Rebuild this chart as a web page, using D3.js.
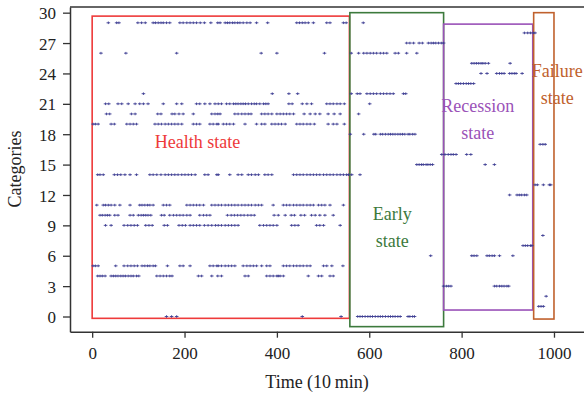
<!DOCTYPE html>
<html>
<head>
<meta charset="utf-8">
<script src="https://cdn.jsdelivr.net/npm/d3@7"></script>
<style>
  body { margin: 0; background: #fff; }
  svg { display: block; }
  text { font-family: "Liberation Serif", "Times New Roman", serif; }
</style>
</head>
<body>
<div id="chart"></div>
<script>
// tick labels
const xTicks = [0, 200, 400, 600, 800, 1000];
const yTicks = [0, 3, 6, 9, 12, 15, 18, 21, 24, 27, 30];

// observed points: [category, times...]
const healthRows = [
  [29, [35, 53, 58, 99, 107, 115, 132, 137, 143, 149, 154, 161, 168, 190, 197, 205, 212, 219, 226, 234, 243, 257, 272,
        277, 288, 293, 298, 304, 309, 315, 320, 327, 335, 342, 356, 380, 443, 449, 455, 461, 468, 479, 508, 515, 544, 550]],
  [26, [19, 73, 183, 366, 400, 503]],
  [22, [111, 390, 426, 445]],
  [21, [29, 36, 56, 64, 78, 93, 103, 111, 121, 154, 183, 194, 226, 233, 244, 255, 266,
        273, 280, 291, 298, 306, 311, 316, 322, 327, 332, 338, 345, 351, 356, 363, 371, 376, 381, 426, 433,
        455, 465, 475, 508, 515, 522, 530, 537, 546]],
  [20, [31, 38, 85, 93, 142, 149, 173, 179, 188, 197, 219, 259, 266, 272, 277, 309, 316, 324, 331, 338, 344,
        367, 374, 381, 389, 400, 407, 414, 421, 428, 436, 459, 472, 483, 493, 511, 524, 537]],
  [19, [2, 7, 13, 41, 48, 75, 82, 89, 96, 136, 143, 150, 158, 165, 172, 179, 186, 194, 219, 226, 233, 255, 262, 270,
        273, 284, 291, 298, 306, 331, 356, 367, 374, 389, 396, 403, 410, 418, 443, 450, 457, 465, 472, 481,
        511, 522, 530, 546]],
  [14, [12, 17, 24, 48, 55, 62, 71, 82, 96, 125, 132, 140, 149, 158, 165, 172, 179, 186, 194, 201, 208, 215, 223,
        244, 251, 270, 273, 298, 316, 324, 338, 345, 353, 360, 374, 381, 389, 436, 443, 450, 457, 465, 472, 479,
        486, 493, 501, 508, 515, 522, 530, 537, 544, 551]],
  [11, [10, 24, 29, 35, 41, 49, 60, 82, 103, 108, 114, 120, 125, 132, 154, 161, 168, 205, 212, 219, 226, 233, 241,
        259, 266, 273, 280, 288, 295, 302, 309, 316, 324, 331, 338, 345, 353, 360, 367, 392, 414, 421, 428, 436,
        443, 450, 457, 465, 472, 479, 490, 497, 504, 515, 544]],
  [10, [17, 22, 28, 33, 38, 49, 56, 82, 89, 100, 106, 111, 116, 121, 127, 150, 156, 168, 176, 183, 190, 197, 205, 212,
        233, 241, 248, 255, 293, 301, 308, 315, 322, 329, 337, 344, 351, 394, 403, 418, 431, 438, 452, 460, 475,
        483, 493, 504, 522]],
  [9, [29, 41, 69, 77, 84, 91, 98, 116, 123, 130, 156, 163, 188, 195, 202, 212, 219, 226, 233, 243, 251, 259, 267,
       273, 280, 288, 295, 302, 309, 316, 363, 371, 378, 385, 392, 400, 432, 439, 446, 486, 493, 501, 537]],
  [5, [2, 7, 13, 51, 69, 77, 84, 91, 98, 108, 114, 120, 125, 132, 137, 163, 190, 197, 212, 255, 262, 270,
       273, 280, 288, 295, 302, 309, 327, 335, 342, 349, 356, 367, 378, 385, 414, 421, 428, 436, 443, 450, 457,
       465, 472, 501, 508, 519, 543]],
  [4, [12, 17, 22, 28, 41, 46, 51, 56, 62, 67, 72, 78, 84, 89, 96, 101, 140, 147, 154, 161, 168, 173, 230, 237, 259,
       272, 280, 331, 338, 378, 385, 392, 400, 403, 407, 414, 468, 490, 497, 515, 522]],
  [0, [161, 172, 183, 455, 539]]
];

const earlyRows = [
  [29, [587]],
  [27, [681, 688, 696, 708, 715, 728, 734, 739, 744, 750, 756, 761]],
  [26, [561, 577, 588, 595, 602, 609, 616, 624, 631, 638, 656, 663, 681, 703]],
  [22, [561, 574, 580, 595, 602, 609, 616, 624, 631, 638, 645, 652, 674, 679]],
  [21, [601]],
  [20, [577]],
  [18, [559, 588, 610, 614, 624, 629, 635, 641, 646, 651, 656, 662, 667, 672, 677, 684, 688, 694, 699]],
  [15, [703, 708, 713, 717, 723, 727, 732, 737]],
  [14, [555, 562, 580]],
  [6, [733]],
  [0, [575, 580, 585, 591, 597, 602, 607, 613, 619, 624, 629, 635, 641, 646, 651, 656, 662, 667, 684, 688, 694, 698]]
];

const recessionRows = [
  [28, [936, 943, 949, 955, 959]],
  [25, [822, 827, 832, 837, 842, 846, 851, 858, 905]],
  [24, [842, 855, 876, 882, 887, 892, 904, 909, 914, 918, 931]],
  [23, [788, 793, 798, 804, 810, 815, 820, 826]],
  [16, [757, 764, 771, 777, 782, 788, 811, 820]],
  [15, [851, 871]],
  [12, [904, 920, 925, 930, 936, 941]],
  [7, [933, 938, 943, 949, 952]],
  [6, [822, 827, 833, 855, 860, 866, 871, 882, 911]],
  [3, [761, 767, 772, 777, 871, 876, 882, 887, 892, 898, 902]]
];

const failureRows = [
  [17, [970, 976, 981]],
  [13, [959, 964, 977, 990, 993]],
  [8, [976]],
  [2, [983]],
  [1, [967, 972, 977]]
];

// state boxes: time range and category range
const stateNames = ['Health state', 'Early state', 'Recession state', 'Failure state'];
const stateStart = [0, 558, 761, 956];
const stateEnd = [557, 761, 954, 1000];
const stateLow = [-0.18, -1.0, 0.64, -0.25];
const stateHigh = [29.66, 30.0, 28.87, 30.0];
const stateColors = ['#ee3a3a', '#3d7a3d', '#9a52b8', '#c0612d'];

const width = 584, height = 396;
const svg = d3.select('#chart').append('svg')
  .attr('width', width)
  .attr('height', height);

const xScale = d3.scaleLinear().domain([-48, 1065]).range([70, 584]);
const yScale = d3.scaleLinear().domain([-1.5, 30.56]).range([331.7, 7]);

// state boxes
stateNames.forEach((name, i) => {
  svg.append('rect')
    .attr('x', xScale(stateStart[i]))
    .attr('y', yScale(stateHigh[i]))
    .attr('width', xScale(stateEnd[i]) - xScale(stateStart[i]))
    .attr('height', yScale(stateLow[i]) - yScale(stateHigh[i]))
    .attr('fill', 'none')
    .attr('stroke', stateColors[i])
    .attr('stroke-width', 1.6);
});

// points
const allRows = [healthRows, earlyRows, recessionRows, failureRows];
const points = [];
allRows.forEach((rows) => rows.forEach(([cat, times]) => times.forEach((t) => points.push([t, cat]))));

svg.append('g')
  .selectAll('path')
  .data(points)
  .join('path')
    .attr('d', (d) => {
      const px = xScale(d[0]), py = yScale(d[1]);
      return `M${px - 1.8},${py}H${px + 1.8}M${px},${py - 1.3}V${py + 1.3}`;
    })
    .attr('stroke', '#3c3c92')
    .attr('stroke-width', 0.9)
    .attr('fill', 'none');

// state labels
const labelLines = [['Health state'], ['Early', 'state'], ['Recession', 'state'], ['Failure', 'state']];
const labelX = [228, 650, 835, 1007];
const labelY = [16.6, 9.5, 20.2, 23.6];
labelLines.forEach((lines, i) => {
  lines.forEach((line, j) => {
    svg.append('text')
      .attr('x', xScale(labelX[i]))
      .attr('y', yScale(labelY[i]) + j * 27)
      .attr('text-anchor', 'middle')
      .attr('fill', stateColors[i])
      .attr('font-size', 18)
      .text(line);
  });
});

// axes
const xAxis = svg.append('g')
  .attr('transform', `translate(0, ${yScale(-1.5)})`)
  .call(d3.axisBottom(xScale).tickValues(xTicks).tickFormat(d3.format('d'))
    .tickSize(6).tickSizeOuter(0).tickPadding(9));

const yAxis = svg.append('g')
  .attr('transform', `translate(${xScale(-48)}, 0)`)
  .call(d3.axisLeft(yScale).tickValues(yTicks).tickSize(7).tickSizeOuter(0).tickPadding(7));

[xAxis, yAxis].forEach((ax) => {
  ax.selectAll('text')
    .attr('font-family', '"Liberation Serif", serif')
    .attr('font-size', 17)
    .attr('fill', '#222');
  ax.selectAll('line').attr('stroke', '#333').attr('stroke-width', 1.3);
  ax.select('.domain').attr('stroke', '#333').attr('stroke-width', 1.5);
});
yAxis.selectAll('text').attr('dy', '0.36em');

// top frame line
svg.append('line')
  .attr('x1', xScale(-48)).attr('x2', width)
  .attr('y1', yScale(30.56)).attr('y2', yScale(30.56))
  .attr('stroke', '#333')
  .attr('stroke-width', 1.5);

// axis titles
svg.append('text')
  .attr('x', 317)
  .attr('y', 388)
  .attr('text-anchor', 'middle')
  .attr('font-size', 18)
  .attr('fill', '#222')
  .text('Time (10\u2009min)');

svg.append('text')
  .attr('transform', 'translate(21, 169) rotate(-90)')
  .attr('text-anchor', 'middle')
  .attr('font-size', 18)
  .attr('fill', '#222')
  .text('Categories');
</script>
</body>
</html>
